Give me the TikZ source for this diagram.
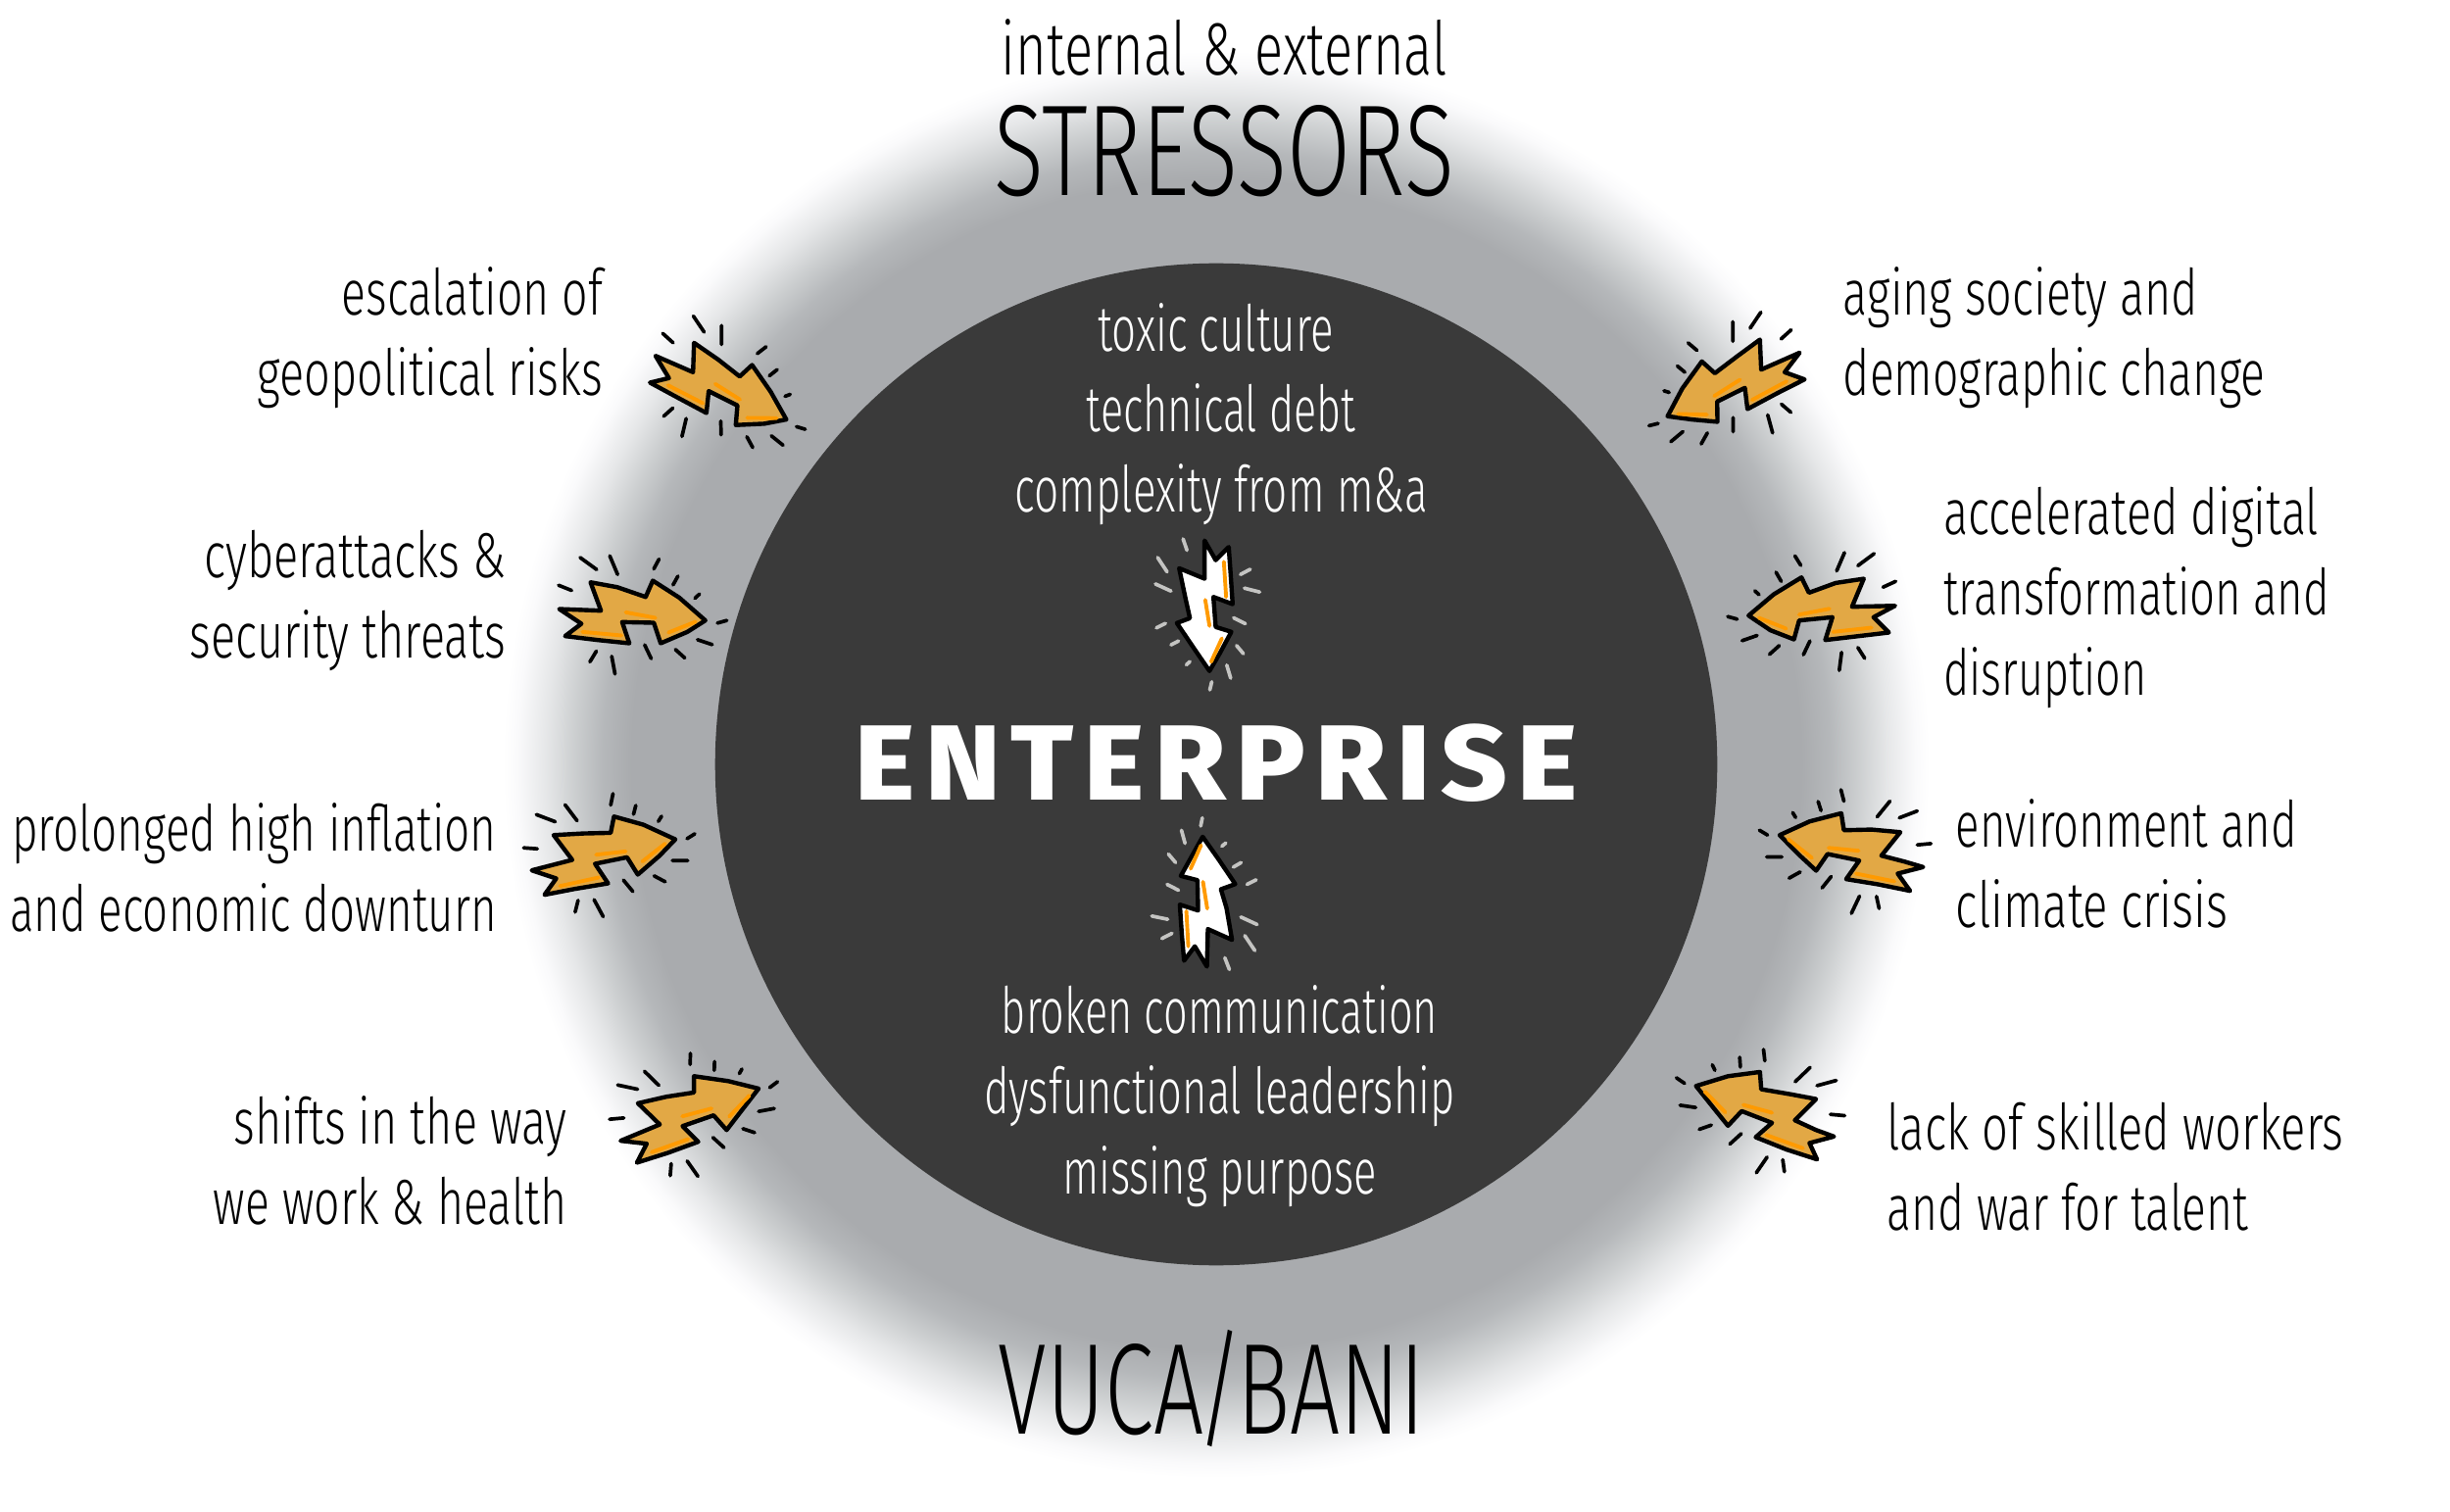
\documentclass[tikz,border=0pt]{standalone}
\usepackage{fontspec}
\usepackage{graphicx}
\newfontfamily\lightf[UprightFont=* Light]{Fira Sans}
\newfontfamily\heavyf[UprightFont=* ExtraBold,LetterSpace=9]{Fira Sans}
\newlength\su \setlength\su{0.015944cm}
\newcommand\tw[2]{\strut\resizebox{#1\su}{\height}{#2}}
\definecolor{darkc}{HTML}{3A3A3A}
\definecolor{boltfill}{HTML}{E2A845}
\definecolor{streak}{HTML}{FF9A00}
\definecolor{tickgray}{HTML}{C4C4C2}
\pgfdeclareradialshading{halo}{\pgfpointorigin}{%
 rgb(0bp)=(0.663,0.671,0.682);rgb(20.5bp)=(0.663,0.671,0.682);
 rgb(21.5bp)=(0.71,0.72,0.73);rgb(22.5bp)=(0.80,0.81,0.815);
 rgb(23.5bp)=(0.90,0.905,0.91);rgb(24.5bp)=(0.98,0.98,0.985);rgb(25bp)=(1,1,1);rgb(50bp)=(1,1,1)}
\tikzset{
 outl/.style={draw=black,line width=1.25pt,line join=round,fill=#1},
 streakline/.style={draw=streak,line width=1.1pt,line cap=round},
 tick/.style={draw=#1,line width=1.05pt,line cap=round},
 sidetext/.style={font=\lightf\fontsize{18.5}{23.33}\selectfont,inner sep=0pt},
 lefttext/.style={sidetext,align=right,anchor=east},
 righttext/.style={sidetext,align=left,anchor=west},
 midtext/.style={sidetext,align=center,text=white},
 bigtitle/.style={font=\lightf\fontsize{37.6}{44}\selectfont,inner sep=0pt,anchor=base},
}
\newcommand\boltat[7]{%
 \begin{scope}[xshift=#1*0.01cm,yshift=-#2*0.01cm,x=0.003333cm,y=-0.003333cm]
  \path[tick=#4] #7;
  \path[outl=#3] #5 -- cycle;
  \path[streakline] #6;
 \end{scope}}
\begin{document}
\begin{tikzpicture}[x=0.01cm,y=-0.01cm]
\useasboundingbox (0,0) rectangle (2500,1543);
\fill[white] (0,0) rectangle (2500,1543);
\shade[shading=halo] (1241,780) circle (728);
\node[circle,fill=darkc,minimum size=10.22cm,inner sep=0pt] (core) at (1241,780) {};

\boltat{620}{280}{boltfill}{black}
{(147,250)--(262,300)--(265,210)--(340,262)--(405,313)--(443,278)--(500,360)--(548,445)--(480,458)--(393,462)--(398,402)--(310,358)--(303,425)--(215,378)--(130,332)--(188,318)}
{(185,340)--(292,395) (330,336)--(406,384) (428,440)--(518,441)}
{(263,128)--(296,177) (349,157)--(349,215) (169,181)--(201,210) (459,243)--(486,222) (496,311)--(520,292) (544,374)--(560,368) (579,467)--(606,475) (502,495)--(538,524) (427,498)--(445,531) (347,450)--(348,492) (241,442)--(228,497) (200,410)--(172,435)}

\boltat{1130}{530}{white}{tickgray}
{(298,65)--(332,125)--(372,85)--(378,170)--(384,260)--(325,238)--(332,330)--(380,345)--(345,410)--(313,465)--(265,395)--(213,318)--(253,303)--(240,245)--(220,150)--(298,182)}
{(357,130)--(364,238) (300,247)--(313,327) (351,365)--(318,437)}
{(232,60)--(244,95) (154,117)--(183,161) (147,198)--(195,220) (408,169)--(438,153) (420,211)--(467,223) (387,302)--(423,320) (396,387)--(417,412) (366,447)--(378,487) (320,498)--(314,523) (242,446)--(253,436) (195,385)--(218,373) (150,333)--(178,319)}

\boltat{1140}{820}{white}{tickgray}
{(262,102)--(310,170)--(362,247)--(318,263)--(335,320)--(352,418)--(278,385)--(275,500)--(238,438)--(205,482)--(198,400)--(192,310)--(248,328)--(246,235)--(195,222)}
{(257,128)--(225,200) (263,240)--(276,322) (212,330)--(218,438)}
{(261,44)--(256,69) (197,82)--(208,122) (157,155)--(179,181) (153,248)--(188,266) (106,345)--(155,355) (137,414)--(168,398) (330,473)--(344,509) (391,405)--(422,451) (379,348)--(429,371) (398,248)--(426,234) (356,195)--(380,181) (321,131)--(333,121)}

\boltat{550}{540}{boltfill}{black}
{(158,163)--(240,178)--(327,208)--(349,158)--(430,210)--(510,280)--(455,315)--(373,350)--(352,287)--(255,285)--(277,350)--(180,340)--(80,328)--(130,290)--(62,245)--(190,250)}
{(266,255)--(357,272) (397,317)--(480,284) (133,315)--(253,326)}
{(126,87)--(177,124) (217,82)--(241,139) (368,92)--(352,122) (426,144)--(411,171) (492,199)--(478,212) (576,280)--(547,288) (486,339)--(531,354) (418,369)--(447,395) (324,355)--(344,397) (223,390)--(233,444) (176,374)--(156,407) (60,172)--(100,188)}

\boltat{520}{790}{boltfill}{black}
{(135,187)--(225,182)--(310,180)--(320,130)--(410,155)--(508,200)--(460,250)--(393,308)--(360,255)--(262,275)--(302,335)--(200,352)--(107,370)--(143,320)--(68,295)--(192,263)}
{(265,247)--(356,237) (407,268)--(477,213) (155,343)--(273,317)}
{(170,94)--(207,143) (82,124)--(140,146) (43,226)--(85,229) (317,60)--(310,95) (387,96)--(380,123) (466,129)--(456,145) (568,183)--(544,198) (499,265)--(546,265) (443,312)--(477,330) (349,325)--(378,360) (259,385)--(287,437) (210,387)--(201,423)}

\boltat{610}{1060}{boltfill}{black}
{(123,198)--(210,178)--(295,165)--(295,115)--(400,130)--(493,153)--(445,215)--(395,280)--(355,235)--(260,268)--(308,316)--(215,350)--(120,380)--(150,322)--(70,313)--(190,263)}
{(259,238)--(349,214) (403,239)--(465,174) (165,348)--(277,308)}
{(143,100)--(187,143) (61,142)--(122,155) (36,247)--(80,243) (284,45)--(283,79) (358,70)--(357,97) (442,93)--(434,107) (551,132)--(527,150) (493,223)--(541,214) (445,276)--(481,288) (353,303)--(387,334) (274,375)--(307,422) (225,383)--(222,420)}

\boltat{1660}{300}{boltfill}{black}
{(408,140)--(412,232)--(530,180)--(484,240)--(545,262)--(460,305)--(370,353)--(362,288)--(277,330)--(278,392)--(200,385)--(125,375)--(170,290)--(230,207)--(270,243)--(340,190)}
{(347,263)--(268,313) (490,268)--(384,325) (157,368)--(246,370)}
{(411,56)--(378,105) (325,85)--(325,145) (504,110)--(473,138) (188,150)--(215,173) (155,221)--(178,240) (114,297)--(130,302) (68,404)--(96,397) (135,453)--(172,422) (247,426)--(228,460) (326,379)--(326,422) (432,371)--(447,426) (474,338)--(503,363)}

\boltat{1750}{550}{boltfill}{black}
{(265,118)--(288,165)--(370,135)--(456,122)--(420,208)--(552,205)--(486,240)--(533,287)--(440,298)--(338,310)--(360,240)--(258,250)--(242,308)--(170,280)--(103,235)--(180,170)}
{(351,214)--(258,232) (218,275)--(135,242) (480,272)--(362,285)}
{(245,52)--(263,81) (187,102)--(203,130) (122,159)--(135,171) (397,42)--(373,98) (488,45)--(438,82) (554,130)--(515,148) (39,238)--(68,246) (129,296)--(83,312) (197,327)--(167,354) (291,313)--(271,355) (388,348)--(381,403) (438,333)--(459,366)}

\boltat{1780}{790}{boltfill}{black}
{(297,120)--(305,172)--(390,170)--(478,178)--(420,250)--(490,268)--(548,285)--(470,305)--(508,358)--(410,338)--(312,322)--(352,265)--(255,245)--(220,296)--(165,245)--(108,187)--(200,145)}
{(350,235)--(258,226) (207,257)--(135,200) (460,329)--(342,305)}
{(296,48)--(305,83) (226,84)--(235,112) (148,118)--(157,133) (446,83)--(407,131) (530,113)--(475,134) (572,213)--(530,217) (46,172)--(71,187) (68,254)--(115,254) (171,300)--(137,319) (266,314)--(238,349) (353,374)--(328,427) (405,375)--(413,412)}

\boltat{1690}{1060}{boltfill}{black}
{(318,102)--(322,155)--(410,170)--(490,185)--(425,250)--(490,280)--(545,300)--(470,320)--(493,370)--(400,340)--(305,302)--(355,258)--(262,222)--(220,267)--(170,205)--(122,145)--(220,115)}
{(355,227)--(267,203) (212,226)--(149,162) (450,336)--(337,295)}
{(329,33)--(333,68) (256,57)--(258,87) (172,80)--(180,97) (62,120)--(87,137) (73,204)--(121,211) (132,278)--(169,265) (472,88)--(426,132) (552,128)--(493,144) (534,232)--(578,236) (261,291)--(226,323) (340,363)--(307,411) (388,371)--(393,408)}

\begin{scope}[x=0.015944cm,y=-0.015944cm]
\node[sidetext,anchor=base,font=\lightf\fontsize{21.5}{26}\selectfont] (subtitle) at (783,48) {\resizebox{285\su}{\height}{internal \& external}};
\node[bigtitle] (stressors) at (783,125) {\resizebox{294\su}{\height}{STRESSORS}};
\node[bigtitle] (vuca) at (775,917) {\resizebox{273\su}{\height}{VUCA\kern-0.07em/\kern-0.07em BANI}};
\node[inner sep=0pt,anchor=base,text=white,font=\heavyf\fontsize{31}{36}\selectfont] (enterprise) at (778,512) {\resizebox{462\su}{\height}{ENTERPRISE}};

\node[lefttext] (t1) at (386,217) {\tw{167}{escalation of}\\\tw{221}{geopolitical risks}};
\node[lefttext] (t2) at (324,385) {\tw{193}{cyberattacks \&}\\\tw{202}{security threats}};
\node[lefttext] (t3) at (318,560) {\tw{310}{prolonged high inflation}\\\tw{311}{and economic downturn}};
\node[lefttext] (t4) at (363,747) {\tw{213}{shifts in the way}\\\tw{226}{we work \& health}};

\node[righttext] (t5) at (1178.5,217) {\tw{227}{aging society and}\\\tw{270}{demographic change}};
\node[righttext] (t6) at (1242.5,383) {\tw{240}{accelerated digital}\\\tw{247}{transformation and}\\\tw{130}{disruption}};
\node[righttext] (t7) at (1250.5,557) {\tw{218}{environment and}\\\tw{174}{climate crisis}};
\node[righttext] (t8) at (1206.5,751) {\tw{292}{lack of skilled workers}\\\tw{231}{and war for talent}};

\node[midtext] (m1) at (781,266) {\tw{151}{toxic culture}\kern 7\su\\\tw{172}{technical debt}\\\tw{264}{complexity from m\&a}};
\node[midtext] (m2) at (780,702) {\tw{279}{broken communication}\\\tw{301}{dysfunctional leadership}\\\tw{201}{missing purpose}};
\end{scope}
\end{tikzpicture}
\end{document}
